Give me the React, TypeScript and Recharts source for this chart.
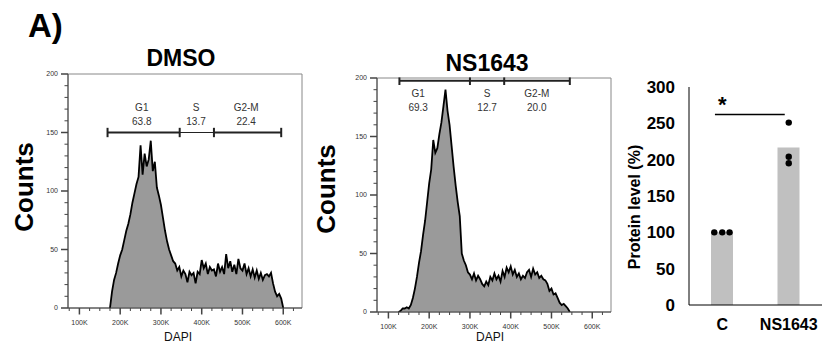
import React from 'react';
import {
  AreaChart, Area, XAxis, YAxis, ReferenceLine, ReferenceArea, ReferenceDot,
  ComposedChart, Bar, Scatter,
} from 'recharts';

// DAPI bins (K) and counts
const dmsoBins = [
  175, 180, 185, 190, 195, 200, 205, 210, 215, 220,
  225, 230, 235, 240, 245, 250, 255, 260, 265, 270,
  275, 280, 285, 290, 295, 300, 305, 310, 315, 320,
  325, 330, 335, 340, 345, 350, 355, 360, 365, 370,
  375, 380, 385, 390, 395, 400, 405, 410, 415, 420,
  425, 430, 435, 440, 445, 450, 455, 460, 465, 470,
  475, 480, 485, 490, 495, 500, 505, 510, 515, 520,
  525, 530, 535, 540, 545, 550, 555, 560, 565, 570,
  575, 580, 585, 590, 595, 600,
];
const dmsoCounts = [
  0, 14, 24, 30, 38, 45, 50, 58, 66, 72,
  80, 90, 98, 106, 112, 139, 114, 132, 121, 127,
  143, 117, 125, 103, 96, 88, 77, 66, 57, 50,
  45, 40, 38, 32, 35, 27, 32, 29, 22, 31,
  28, 30, 21, 31, 29, 41, 34, 38, 29, 35,
  32, 33, 27, 38, 31, 35, 29, 46, 34, 40,
  31, 37, 29, 42, 34, 32, 38, 29, 34, 27,
  33, 26, 32, 25, 30, 24, 28, 29, 27, 30,
  21, 14, 10, 12, 8, 0,
];

const nsBins = [
  125, 130, 135, 140, 145, 150, 155, 160, 165, 170,
  175, 180, 185, 190, 195, 200, 205, 210, 215, 220,
  225, 230, 235, 240, 245, 250, 255, 260, 265, 270,
  275, 280, 285, 290, 295, 300, 305, 310, 315, 320,
  325, 330, 335, 340, 345, 350, 355, 360, 365, 370,
  375, 380, 385, 390, 395, 400, 405, 410, 415, 420,
  425, 430, 435, 440, 445, 450, 455, 460, 465, 470,
  475, 480, 485, 490, 495, 500, 505, 510, 515, 520,
  525, 530, 535, 540, 545,
];
const nsCounts = [
  0, 1, 3, 3, 4, 3, 6, 12, 20, 30,
  42, 52, 66, 78, 94, 110, 122, 147, 136, 140,
  152, 162, 176, 190, 172, 160, 142, 124, 108, 94,
  82, 50, 44, 40, 34, 32, 28, 33, 27, 31,
  28, 24, 22, 26, 23, 30, 27, 33, 28, 31,
  26, 35, 30, 38, 34, 39, 32, 36, 30, 33,
  28, 31, 29, 34, 36, 30, 37, 32, 34, 29,
  31, 28, 27, 24, 18, 20, 15, 16, 12, 8,
  6, 7, 5, 3, 0,
];

// gates
const gateNames = ['G1', 'S', 'G2-M'];
const dmsoGatePct = ['63.8', '13.7', '22.4'];
const dmsoGateEdges = [169, 346, 430, 595];
const dmsoGateLabelX = [253, 386, 509];
const nsGatePct = ['69.3', '12.7', '20.0'];
const nsGateEdges = [127, 300, 384, 545];
const nsGateLabelX = [173, 342, 464];

// axis ticks
const xMajor = [100, 200, 300, 400, 500, 600];
const xMinor = [75, 125, 150, 175, 225, 250, 275, 325, 350, 375, 425, 450, 475, 525, 550, 575, 625];
const yMajor = [0, 50, 100, 150, 200];
const yMinor = [10, 20, 30, 40, 60, 70, 80, 90, 110, 120, 130, 140, 160, 170, 180, 190];

// protein level bar chart
const groups = ['C', 'NS1643'];
const replicates = [
  [100, 100, 100],
  [251, 204, 195],
];
const jitter = [
  [-0.12, 0.0, 0.11],
  [0, 0, 0],
];
const barTicks = [0, 50, 100, 150, 200, 250, 300];

const FONT = '"Liberation Sans", Arial, sans-serif';

const YTick = (props: any) => {
  const { x, y, payload } = props;
  const v = payload.value;
  const major = yMajor.includes(v);
  return (
    <g>
      <line x1={x - (major ? 7 : 3.5)} x2={x} y1={y} y2={y} stroke="#444" strokeWidth={major ? 1.5 : 1} />
      {major && (
        <text x={x - 10} y={y} dy="0.35em" textAnchor="end" fontSize={7} fill="#333">{v}</text>
      )}
    </g>
  );
};

const XTick = (props: any) => {
  const { x, y, payload } = props;
  const v = payload.value;
  const major = xMajor.includes(v);
  return (
    <g>
      <line x1={x} x2={x} y1={y} y2={y + (major ? 6.5 : 3)} stroke="#444" strokeWidth={major ? 1.5 : 1} />
      {major && (
        <text x={x} y={y + 16.5} textAnchor="middle" fontSize={7} fill="#333">{v}K</text>
      )}
    </g>
  );
};

const HistPanel = ({ left, top, bins, counts, edges, pct, labelX, level, nameY, pctY, capLo, capHi, thinMiddle }: any) => {
  const data = bins.map((b: number, i: number) => ({ x: b, y: counts[i] }));
  return (
    <div style={{ position: 'absolute', left: left - 40, top: top - 10 }}>
      <AreaChart width={284} height={274} data={data} margin={{ top: 10, right: 10, bottom: 0, left: 0 }}>
        <XAxis
          dataKey="x" type="number" domain={[72, 646]} allowDataOverflow
          ticks={[...xMajor, ...xMinor]} interval={0} tickSize={0} tickMargin={0}
          tick={(p: any) => <XTick {...p} />} height={30} stroke="#444"
        />
        <YAxis
          type="number" domain={[0, 200]} allowDataOverflow
          ticks={[...yMajor, ...yMinor]} interval={0} tickSize={0} tickMargin={0}
          tick={(p: any) => <YTick {...p} />} width={40} stroke="#444"
        />
        <ReferenceArea x1={72} x2={646} y1={0} y2={200} fill="none" stroke="#888" strokeWidth={1} ifOverflow="visible" />
        <Area
          type="linear" dataKey="y" stroke="#000" strokeWidth={1.8} fill="#9a9a9a" fillOpacity={1}
          dot={false} activeDot={false} isAnimationActive={false}
        />
        {gateNames.map((g, i) => (
          <ReferenceLine
            key={'seg' + g}
            segment={[{ x: edges[i], y: level }, { x: edges[i + 1], y: level }]}
            stroke="#222" strokeWidth={thinMiddle && i === 1 ? 1 : 2} ifOverflow="visible"
          />
        ))}
        {edges.map((e: number, i: number) => (
          <ReferenceLine
            key={'cap' + i}
            segment={[{ x: e, y: capLo }, { x: e, y: capHi }]}
            stroke="#222" strokeWidth={2} ifOverflow="visible"
          />
        ))}
        {gateNames.map((g, i) => (
          <ReferenceDot
            key={'nm' + g} x={labelX[i]} y={nameY} r={0} ifOverflow="visible"
            shape={(p: any) => (
              <text x={p.cx} y={p.cy} textAnchor="middle" fontSize={10} fill="#333">{g}</text>
            )}
          />
        ))}
        {gateNames.map((g, i) => (
          <ReferenceDot
            key={'pc' + g} x={labelX[i]} y={pctY} r={0} ifOverflow="visible"
            shape={(p: any) => (
              <text x={p.cx} y={p.cy} textAnchor="middle" fontSize={10} fill="#333">{pct[i]}</text>
            )}
          />
        ))}
      </AreaChart>
    </div>
  );
};

const ProteinPanel = () => {
  const barData = groups.map((g, i) => ({
    name: g,
    value: replicates[i].reduce((a, b) => a + b, 0) / replicates[i].length,
  }));
  const dots = replicates.flatMap((r, i) => r.map((v, j) => ({ x: i + jitter[i][j], y: v })));
  return (
    <div style={{ position: 'absolute', left: 620, top: 70 }}>
      <ComposedChart width={202} height={282} data={barData} margin={{ top: 17, right: 0, bottom: 17, left: 19 }}>
        <XAxis
          xAxisId="cat" dataKey="name" type="category" axisLine={{ stroke: '#000' }} tickLine={false}
          tickSize={0} tickMargin={14} height={30}
          tick={{ fontSize: 16, fontWeight: 'bold', fill: '#000' }}
        />
        <XAxis xAxisId="num" dataKey="x" type="number" domain={[-0.5, 1.5]} allowDataOverflow hide />
        <YAxis
          type="number" domain={[0, 300]} ticks={barTicks} interval={0} width={50}
          axisLine={{ stroke: '#000' }} tickLine={false} tickSize={0} tickMargin={14}
          tick={{ fontSize: 17, fontWeight: 'bold', fill: '#000' }}
        />
        <Bar xAxisId="cat" dataKey="value" fill="#c0c0c0" barSize={22} isAnimationActive={false} />
        <Scatter
          xAxisId="num" data={dots} dataKey="y" isAnimationActive={false}
          shape={(p: any) => <circle cx={p.cx} cy={p.cy} r={3.2} fill="#000" />}
        />
        <ReferenceLine
          xAxisId="num" segment={[{ x: -0.11, y: 262 }, { x: 0.94, y: 262 }]}
          stroke="#000" strokeWidth={1.5} ifOverflow="visible"
        />
        <ReferenceDot
          xAxisId="num" x={0} y={266} r={0} ifOverflow="visible"
          shape={(p: any) => (
            <text x={p.cx} y={p.cy} textAnchor="middle" fontSize={22} fontWeight="bold" fill="#000">*</text>
          )}
        />
      </ComposedChart>
    </div>
  );
};

export default function App() {
  return (
    <div style={{ position: 'absolute', left: 0, top: 0, width: 822, height: 352, background: '#fff', fontFamily: FONT, overflow: 'hidden' }}>
      <HistPanel
        left={68} top={74} bins={dmsoBins} counts={dmsoCounts} edges={dmsoGateEdges}
        pct={dmsoGatePct} labelX={dmsoGateLabelX} level={150} nameY={168.5} pctY={156}
        capLo={146} capHi={154} thinMiddle
      />
      <HistPanel
        left={377} top={78} bins={nsBins} counts={nsCounts} edges={nsGateEdges}
        pct={nsGatePct} labelX={nsGateLabelX} level={197.7} nameY={184} pctY={172}
        capLo={194} capHi={200.5} thinMiddle={false}
      />
      <ProteinPanel />
      <svg width={822} height={352} style={{ position: 'absolute', left: 0, top: 0, pointerEvents: 'none' }}>
        <text x={28} y={37} fontSize={33} fontWeight="bold" fill="#000">A)</text>
        <text x={181} y={66} fontSize={23} fontWeight="bold" textAnchor="middle" fill="#000">DMSO</text>
        <text x={487} y={71} fontSize={23} fontWeight="bold" textAnchor="middle" fill="#000">NS1643</text>
        <text x={33} y={187} fontSize={26} fontWeight="bold" textAnchor="middle" fill="#000" transform="rotate(-90 33 187)">Counts</text>
        <text x={335} y={189} fontSize={26} fontWeight="bold" textAnchor="middle" fill="#000" transform="rotate(-90 335 189)">Counts</text>
        <text x={178} y={341} fontSize={12} textAnchor="middle" fill="#111">DAPI</text>
        <text x={490} y={341} fontSize={12} textAnchor="middle" fill="#111">DAPI</text>
        <text x={640} y={207} fontSize={16} fontWeight="bold" textAnchor="middle" fill="#000" transform="rotate(-90 640 207)">Protein level (%)</text>
      </svg>
    </div>
  );
}
